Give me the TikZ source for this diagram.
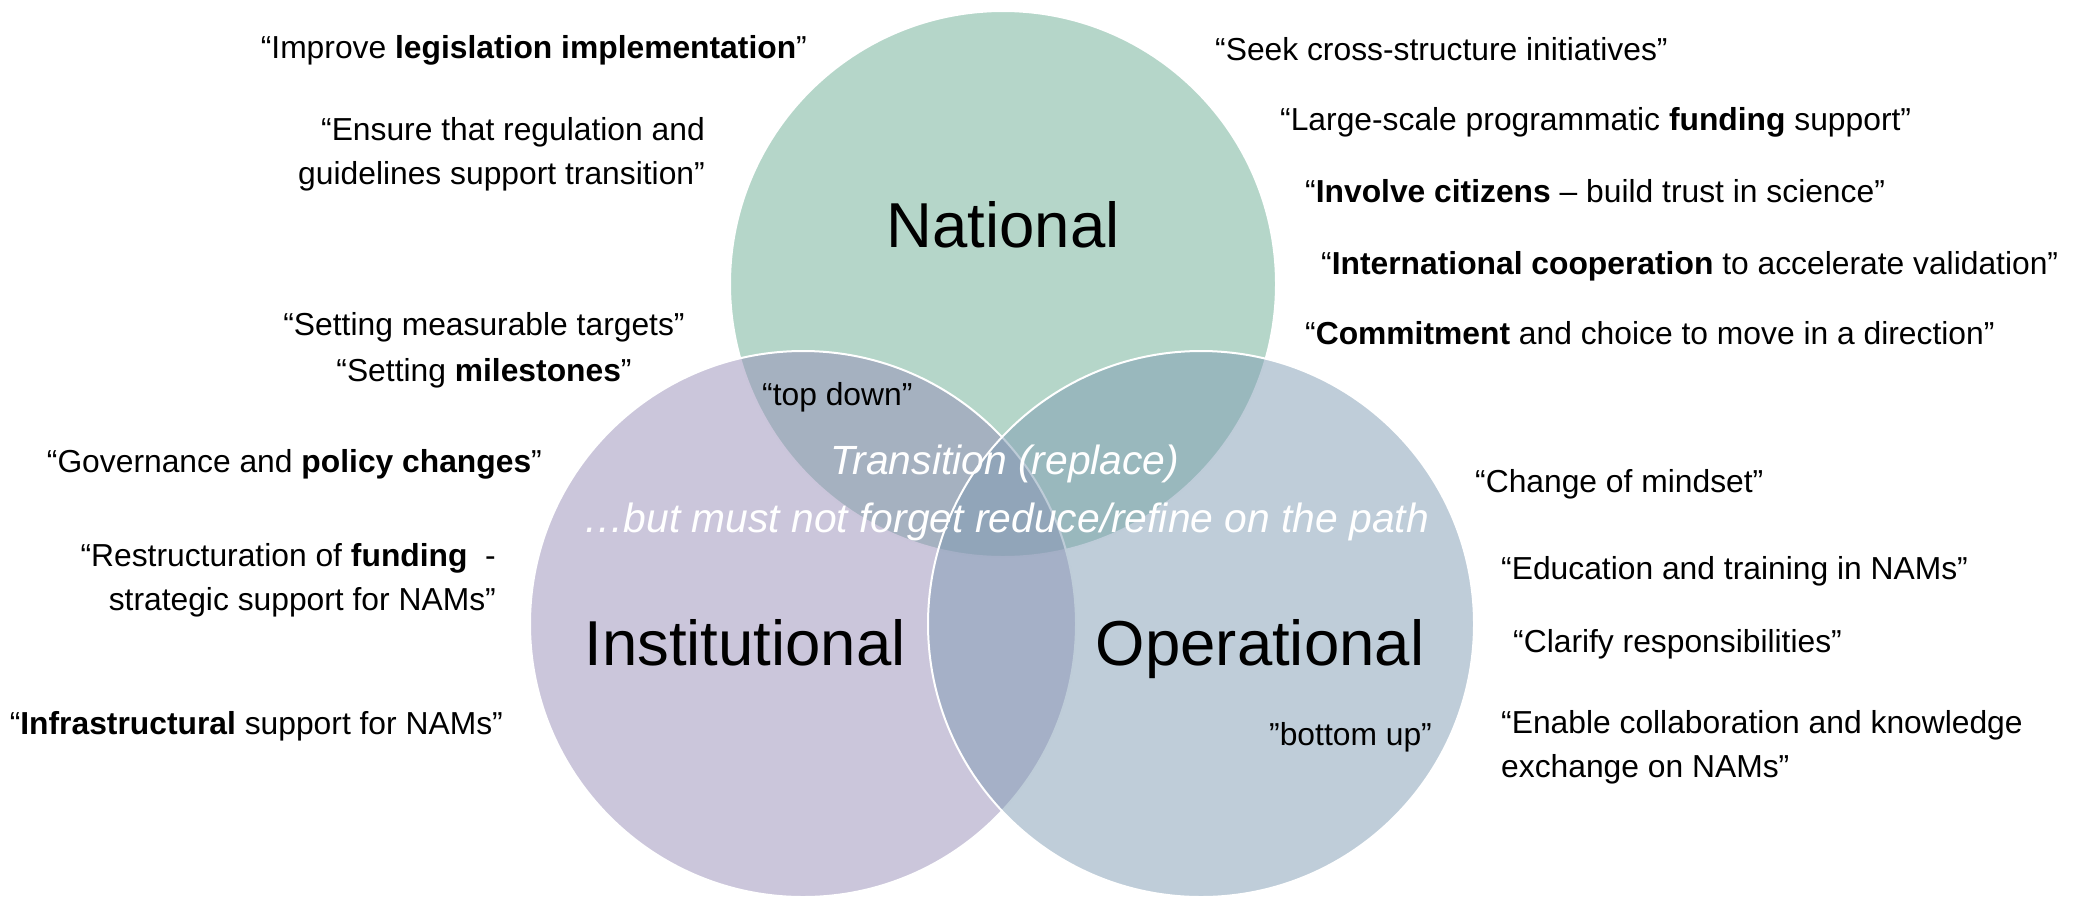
\documentclass[tikz,border=0pt]{standalone}
\usepackage{fontspec}
\setmainfont{Liberation Sans}
\usetikzlibrary{positioning}
\definecolor{natgreen}{RGB}{107,173,147}
\definecolor{instpurple}{RGB}{151,141,183}
\definecolor{opblue}{RGB}{127,155,179}
\tikzstyle{area} = [circle, draw=white, line width=2pt, fill opacity=0.5, minimum size=546pt, inner sep=0pt]
\tikzstyle{title} = [font=\fontsize{63.5}{70}\selectfont, inner sep=0pt]
\tikzstyle{quote} = [font=\fontsize{31.8}{44}\selectfont, inner sep=0pt]
\tikzstyle{transit} = [font=\fontsize{40.8}{58}\selectfont\itshape, text=white, inner sep=0pt]

\begin{document}
\begin{tikzpicture}[x=1pt, y=-1pt]
    \useasboundingbox (0,0) rectangle (2078,898);
    \node[area, fill=natgreen] (nat) at (1003,284) {};
    \node[area, fill=instpurple] (inst) at (803,624) {};
    \node[area, fill=opblue] (oper) at (1201,624) {};
    \node[title, anchor=base] (natlbl) at (1003,247) {National};
    \node[title, anchor=base] (instlbl) at (745,665) {Institutional};
    \node[title, anchor=base] (operlbl) at (1260,665) {Operational};
    \node[transit, anchor=base] (trans) at (1005,474) {Transition (replace)};
    \node[transit, anchor=base] (refine) at (1006,532) {…but must not forget reduce/refine on the path};
    \node[quote, anchor=base west] (topdown) at (762,405) {“top down”};
    \node[quote, anchor=base east] (bottomup) at (1432,745) {”bottom up”};
    \node[quote, anchor=base east] (legis) at (807,58) {“Improve \textbf{legislation implementation}”};
    \node[quote, anchor=base east, align=right] (regul) at (705,184) {“Ensure that regulation and\\guidelines support transition”};
    \node[quote, anchor=base, align=center, font=\fontsize{31.8}{46}\selectfont] (targets) at (484,381) {“Setting measurable targets”\\“Setting \textbf{milestones}”};
    \node[quote, anchor=base east] (govern) at (542,472) {“Governance and \textbf{policy changes}”};
    \node[quote, anchor=base east, align=right] (restruct) at (496,610) {“Restructuration of \textbf{funding}~ -\\strategic support for NAMs”};
    \node[quote, anchor=base east] (infra) at (503,734) {“\textbf{Infrastructural} support for NAMs”};
    \node[quote, anchor=base west] (seek) at (1215,60) {“Seek cross-structure initiatives”};
    \node[quote, anchor=base west] (funding) at (1280,130) {“Large-scale programmatic \textbf{funding} support”};
    \node[quote, anchor=base west] (citizens) at (1305,202) {“\textbf{Involve citizens} – build trust in science”};
    \node[quote, anchor=base west] (intl) at (1321,274) {“\textbf{International cooperation} to accelerate validation”};
    \node[quote, anchor=base west] (commit) at (1305,344) {“\textbf{Commitment} and choice to move in a direction”};
    \node[quote, anchor=base west] (mindset) at (1475,492) {“Change of mindset”};
    \node[quote, anchor=base west] (educ) at (1501,579) {“Education and training in NAMs”};
    \node[quote, anchor=base west] (clarify) at (1513,652) {“Clarify responsibilities”};
    \node[quote, anchor=base west, align=left] (collab) at (1501,777) {“Enable collaboration and knowledge\\exchange on NAMs”};
\end{tikzpicture}
\end{document}
